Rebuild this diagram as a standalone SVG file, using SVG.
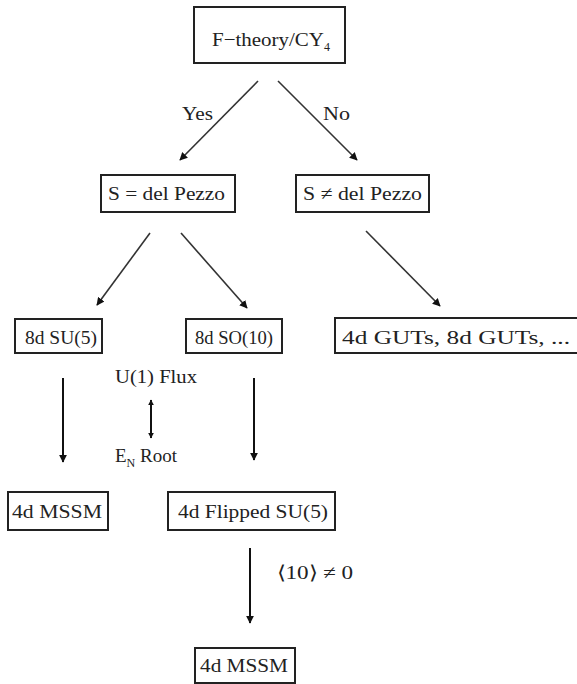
<svg xmlns="http://www.w3.org/2000/svg" width="577" height="684" viewBox="0 0 577 684">
<style>
text{font-family:"Liberation Serif","Times New Roman",serif;font-size:19px;fill:#222}
.b{fill:#fff;stroke:#222;stroke-width:2}
.c{stroke:#333;stroke-width:1.6;fill:none}
.v{stroke:#111;stroke-width:2;fill:none}
</style>
<defs>
<marker id="ah" viewBox="0 0 10 10" refX="9" refY="5" markerWidth="8" markerHeight="8" markerUnits="userSpaceOnUse" orient="auto"><path d="M0,0L10,5L0,10z" fill="#111"/></marker>
<marker id="ah2" viewBox="0 0 10 10" refX="9" refY="5" markerWidth="6" markerHeight="6" markerUnits="userSpaceOnUse" orient="auto-start-reverse"><path d="M0,0L10,5L0,10z" fill="#111"/></marker>
</defs>
<rect width="577" height="684" fill="#fff"/>
<g id="connectors">
<line class="c" x1="258" y1="81" x2="180" y2="160" marker-end="url(#ah)"/>
<line class="c" x1="278" y1="81" x2="357" y2="160" marker-end="url(#ah)"/>
<line class="c" x1="150" y1="233" x2="97" y2="305" marker-end="url(#ah)"/>
<line class="c" x1="181" y1="233" x2="247" y2="308" marker-end="url(#ah)"/>
<line class="c" x1="366" y1="231" x2="440" y2="306" marker-end="url(#ah)"/>
<line class="v" x1="63" y1="378" x2="63" y2="462" marker-end="url(#ah)"/>
<line class="v" x1="254" y1="378" x2="254" y2="460" marker-end="url(#ah)"/>
<line class="v" x1="151" y1="400" x2="151" y2="438" marker-start="url(#ah2)" marker-end="url(#ah2)"/>
<line class="v" x1="250" y1="548" x2="250" y2="623" marker-end="url(#ah)"/>
<text x="182" y="120" textLength="31" lengthAdjust="spacingAndGlyphs">Yes</text>
<text x="323" y="120" textLength="27" lengthAdjust="spacingAndGlyphs">No</text>
<text x="115" y="383" textLength="82" lengthAdjust="spacingAndGlyphs">U(1) Flux</text>
<text x="115" y="462">E<tspan font-size="12" dy="5">N</tspan><tspan dy="-5"> Root</tspan></text>
<text x="277" y="579" textLength="76" lengthAdjust="spacingAndGlyphs">⟨10⟩ ≠ 0</text>
</g>
<g id="n1"><rect class="b" x="194" y="7" width="151" height="56"/><text x="212" y="46"><tspan textLength="112" lengthAdjust="spacingAndGlyphs">F−theory/CY</tspan><tspan font-size="12" dy="5">4</tspan></text></g>
<g id="n2"><rect class="b" x="101" y="175" width="134" height="37"/><text x="108" y="200" textLength="117" lengthAdjust="spacingAndGlyphs">S = del Pezzo</text></g>
<g id="n3"><rect class="b" x="296" y="175" width="133" height="37"/><text x="303" y="200" textLength="119" lengthAdjust="spacingAndGlyphs">S ≠ del Pezzo</text></g>
<g id="n4"><rect class="b" x="15" y="319" width="87" height="34"/><text x="25" y="344" textLength="72" lengthAdjust="spacingAndGlyphs">8d SU(5)</text></g>
<g id="n5"><rect class="b" x="186" y="319" width="96" height="34"/><text x="195" y="344" textLength="78" lengthAdjust="spacingAndGlyphs">8d SO(10)</text></g>
<g id="n6"><rect class="b" x="335" y="318" width="250" height="35"/><text x="342" y="344" textLength="228" lengthAdjust="spacingAndGlyphs">4d GUTs, 8d GUTs, ...</text></g>
<g id="n7"><rect class="b" x="8" y="492" width="100" height="38"/><text x="12" y="518" textLength="90" lengthAdjust="spacingAndGlyphs">4d MSSM</text></g>
<g id="n8"><rect class="b" x="168" y="492" width="167" height="38"/><text x="178" y="518" textLength="150" lengthAdjust="spacingAndGlyphs">4d Flipped SU(5)</text></g>
<g id="n9"><rect class="b" x="195" y="648" width="100" height="35"/><text x="200" y="672" textLength="88" lengthAdjust="spacingAndGlyphs">4d MSSM</text></g>
</svg>
